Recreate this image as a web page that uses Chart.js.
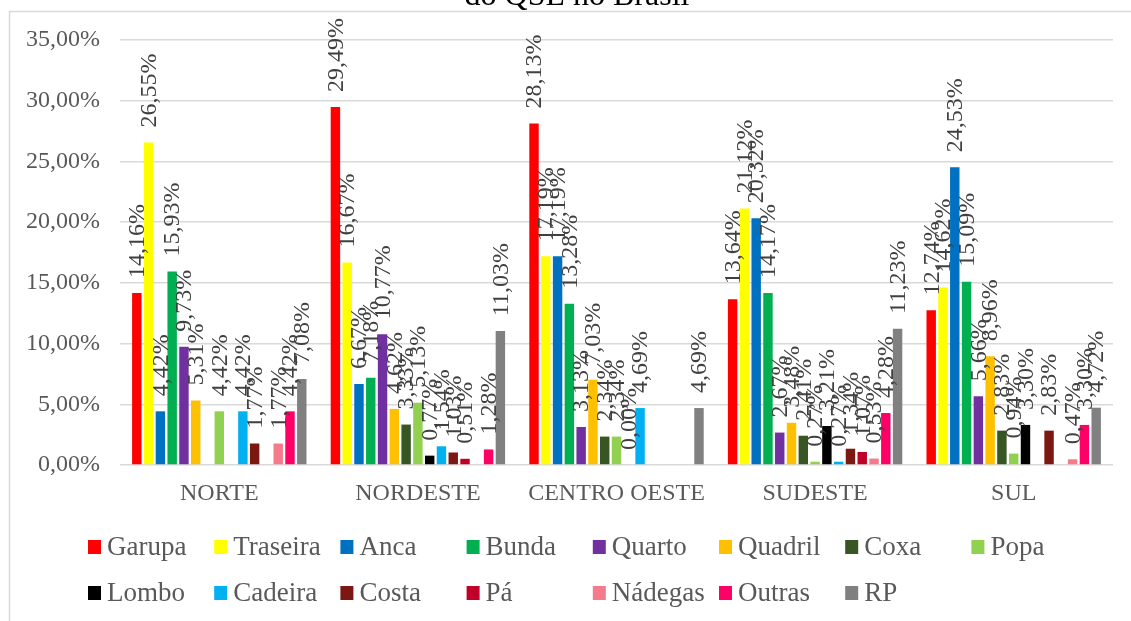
<!DOCTYPE html>
<html>
<head>
<meta charset="utf-8">
<script src="https://cdn.jsdelivr.net/npm/chart.js@4"></script>
<style>
  html, body { margin: 0; padding: 0; background: #fff; }
  #wrap { width: 1131px; height: 621px; position: relative; }
</style>
</head>
<body>
<div id="wrap"><canvas id="chart"></canvas></div>
<script>
// regions (x axis)
const regions = ['NORTE', 'NORDESTE', 'CENTRO OESTE', 'SUDESTE', 'SUL']
const yTicks = [0, 5, 10, 15, 20, 25, 30, 35]

// % per cut name, order: NORTE, NORDESTE, CENTRO OESTE, SUDESTE, SUL (null = empty cell)
const garupa   = [14.16, 29.49, 28.13, 13.64, 12.74]
const traseira = [26.55, 16.67, 17.19, 21.12, 14.62]
const anca     = [4.42, 6.67, 17.19, 20.32, 24.53]
const bunda    = [15.93, 7.18, 13.28, 14.17, 15.09]
const quarto   = [9.73, 10.77, 3.13, 2.67, 5.66]
const quadril  = [5.31, 4.62, 7.03, 3.48, 8.96]
const coxa     = [null, 3.33, 2.34, 2.41, 2.83]
const popa     = [4.42, 5.13, 2.34, 0.27, 0.94]
const lombo    = [null, 0.77, 0.00, 3.21, 3.30]
const cadeira  = [4.42, 1.54, 4.69, 0.27, null]
const costa    = [1.77, 1.03, null, 1.34, 2.83]
const pa       = [null, 0.51, null, 1.07, null]
const nadegas  = [1.77, null, null, 0.53, 0.47]
const outras   = [4.42, 1.28, null, 4.28, 3.30]
const rp       = [7.08, 11.03, 4.69, 11.23, 4.72]

const seriesNames = ['Garupa', 'Traseira', 'Anca', 'Bunda', 'Quarto', 'Quadril', 'Coxa', 'Popa',
  'Lombo', 'Cadeira', 'Costa', 'Pá', 'Nádegas', 'Outras', 'RP']
const seriesData = [garupa, traseira, anca, bunda, quarto, quadril, coxa, popa,
  lombo, cadeira, costa, pa, nadegas, outras, rp]
const seriesColors = ['#FF0000', '#FFFF00', '#0070C0', '#00B050', '#7030A0', '#FFC000', '#375623', '#92D050',
  '#000000', '#00B0F0', '#7B1812', '#C00028', '#F47A8C', '#FF0066', '#808080']

const fmt = (v) => v.toFixed(2).replace('.', ',') + '%'
const SERIF = '"Liberation Serif", "Times New Roman", serif'

// value labels, rotated, above each bar
const barLabels = {
  id: 'barLabels',
  afterDatasetsDraw(chart) {
    const ctx = chart.ctx
    ctx.save()
    ctx.font = '24px ' + SERIF
    ctx.fillStyle = '#404040'
    ctx.textAlign = 'left'
    ctx.textBaseline = 'middle'
    chart.data.datasets.forEach((ds, i) => {
      const meta = chart.getDatasetMeta(i)
      meta.data.forEach((bar, j) => {
        const v = ds.data[j]
        if (v === null || v === undefined) return
        ctx.save()
        ctx.translate(bar.x + 1, bar.y - 15)
        ctx.rotate(-Math.PI / 2)
        ctx.fillText(fmt(v), 0, 0)
        ctx.restore()
      })
    })
    ctx.restore()
  }
}

// title remainder, frame and legend grid
const decor = {
  id: 'decor',
  afterDraw(chart) {
    const ctx = chart.ctx
    ctx.save()
    ctx.strokeStyle = '#d9d9d9'
    ctx.lineWidth = 1.5
    ctx.beginPath()
    ctx.moveTo(9.5, 621)
    ctx.lineTo(9.5, 11.5)
    ctx.lineTo(1131, 11.5)
    ctx.stroke()

    ctx.fillStyle = '#000'
    ctx.font = '32px ' + SERIF
    ctx.textAlign = 'center'
    ctx.textBaseline = 'alphabetic'
    ctx.fillText('do QSL no Brasil', 577, 5)

    ctx.font = '27px ' + SERIF
    ctx.textAlign = 'left'
    ctx.textBaseline = 'middle'
    chart.data.datasets.forEach((ds, i) => {
      const col = i % 8
      const row = Math.floor(i / 8)
      const x = 88 + col * 126.2
      const y = 547 + row * 46
      ctx.fillStyle = ds.backgroundColor
      ctx.fillRect(x, y - 7, 13, 14)
      ctx.fillStyle = '#595959'
      ctx.fillText(ds.label, x + 19, y + 1)
    })
    ctx.restore()
  }
}

new Chart(document.getElementById('chart'), {
  type: 'bar',
  data: {
    labels: regions,
    datasets: seriesNames.map((name, i) => ({
      label: name,
      data: seriesData[i],
      backgroundColor: seriesColors[i],
      borderWidth: 0,
      categoryPercentage: 0.89,
      barPercentage: 0.8,
    })),
  },
  options: {
    responsive: true,
    maintainAspectRatio: false,
    animation: false,
    layout: { padding: { top: 40, right: 18, bottom: 96, left: 0 } },
    plugins: {
      legend: { display: false },
      title: { display: false },
      tooltip: { enabled: false },
    },
    scales: {
      x: {
        grid: { display: false, drawTicks: false },
        border: { display: false },
        ticks: { color: '#595959', font: { family: SERIF, size: 24 }, padding: 14 },
        afterFit(s) { s.height = 60 },
      },
      y: {
        min: 0,
        max: 35,
        afterBuildTicks(s) { s.ticks = yTicks.map((v) => ({ value: v })) },
        grid: { color: '#d9d9d9', lineWidth: 1.5, drawTicks: false },
        border: { display: false },
        ticks: {
          color: '#595959',
          font: { family: SERIF, size: 24 },
          padding: 20,
          callback: (v) => fmt(v),
        },
        afterFit(s) { s.width = 120 },
      },
    },
  },
  plugins: [barLabels, decor],
})
</script>
</body>
</html>
